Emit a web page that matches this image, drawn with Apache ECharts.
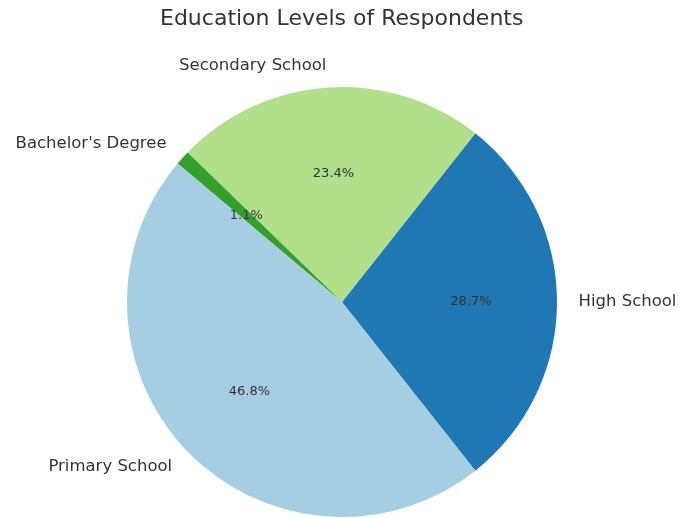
<!DOCTYPE html>
<html>
<head>
<meta charset="utf-8">
<script src="https://cdn.jsdelivr.net/npm/echarts@6/dist/echarts.min.js"></script>
<style>html,body{margin:0;padding:0;background:#fff}#chart{width:691px;height:518px}</style>
</head>
<body>
<div id="chart"></div>
<script>
const categories = ["High School", "Secondary School", "Bachelor's Degree", "Primary School"];
const values = [28.7, 23.4, 1.1, 46.8];
const colors = ["#1f78b4", "#b2df8a", "#33a02c", "#a6cee3"];
const titleText = "Education Levels of Respondents";

const total = values.reduce((a, b) => a + b, 0);
const startAngle = -(values[0] / total) * 180;
const R = 215;
const center = [342, 302];
const font = "DejaVu Sans";

const data = categories.map((c, i) => ({ name: c, value: values[i], itemStyle: { color: colors[i] } }));

const chart = echarts.init(document.getElementById('chart'));
chart.setOption({
  animation: false,
  backgroundColor: '#fff',
  title: {
    text: titleText,
    left: 155,
    top: 3,
    textStyle: { fontFamily: font, fontSize: 22, fontWeight: 'normal', color: '#333' }
  },
  series: [
    {
      type: 'pie',
      center: center,
      radius: [0, R],
      clockwise: false,
      startAngle: startAngle,
      avoidLabelOverlap: false,
      silent: true,
      data: data,
      label: {
        show: true,
        position: 'outside',
        distanceToLabelLine: 0,
        fontFamily: font,
        fontSize: 16.5,
        color: '#333',
        formatter: '{b}'
      },
      labelLine: { show: false, length: R * 0.1, length2: 0 },
      emphasis: { disabled: true }
    },
    {
      type: 'pie',
      center: center,
      radius: [R * 0.6 * 2 - R - 6, R],
      clockwise: false,
      startAngle: startAngle,
      avoidLabelOverlap: false,
      silent: true,
      data: categories.map((c, i) => ({ name: c, value: values[i], itemStyle: { color: 'rgba(0,0,0,0)' } })),
      label: {
        show: true,
        position: 'inside',
        fontFamily: font,
        fontSize: 13,
        color: '#333',
        formatter: p => p.percent.toFixed(1) + '%'
      },
      labelLine: { show: false },
      emphasis: { disabled: true }
    }
  ]
});
</script>
</body>
</html>
